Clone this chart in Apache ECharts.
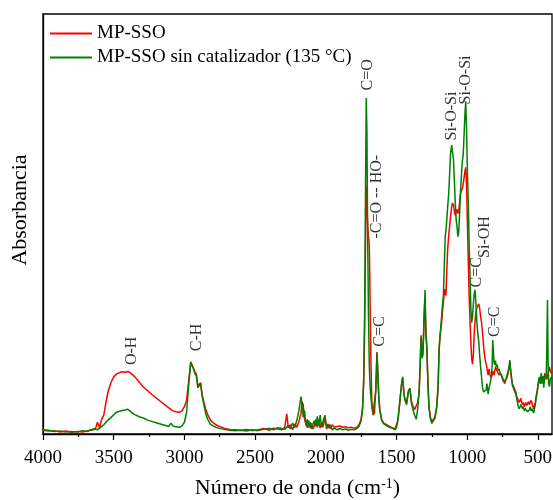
<!DOCTYPE html>
<html>
<head>
<meta charset="utf-8">
<script src="https://cdn.jsdelivr.net/npm/echarts@6/dist/echarts.min.js"></script>
<style>
  html, body { margin: 0; padding: 0; background: #fff; }
  #main { width: 553px; height: 500px; }
</style>
</head>
<body>
<div id="main"></div>
<script>
// numero de onda (cm-1)
var wavenumber = [4000,3960,3920,3880,3840,3800,3760,3720,3690,3660,3630,3615,3600,3585,3570,3555,3540,3520,3500,3480,3460,3440,3420,3400,3385,3370,3350,3320,3290,3260,3230,3200,3170,3140,3110,3095,3080,3060,3040,3020,3000,2985,2970,2955,2945,2935,2925,2915,2905,2895,2885,2875,2865,2850,2835,2815,2790,2760,2720,2680,2640,2600,2560,2520,2480,2440,2400,2370,2340,2310,2290,2276,2265,2250,2235,2220,2205,2190,2175,2168,2160,2150,2140,2130,2120,2110,2100,2090,2080,2070,2060,2050,2040,2030,2020,2006,1995,1985,1970,1955,1940,1920,1900,1880,1860,1840,1820,1800,1780,1765,1750,1740,1732,1725,1719,1714,1709,1704,1698,1692,1686,1680,1674,1666,1656,1646,1638,1632,1625,1618,1605,1590,1570,1550,1530,1510,1500,1490,1475,1465,1456,1448,1440,1428,1416,1405,1395,1385,1372,1360,1350,1340,1332,1326,1318,1312,1305,1298,1292,1285,1278,1270,1260,1250,1240,1228,1216,1206,1198,1190,1182,1175,1168,1160,1155,1150,1145,1138,1130,1124,1118,1110,1104,1097,1090,1084,1078,1072,1066,1060,1054,1048,1040,1034,1028,1022,1016,1010,1004,998,992,986,980,974,968,962,956,950,944,938,932,925,918,912,905,898,891,884,878,872,866,860,852,845,838,830,824,819,815,810,805,800,794,788,781,774,766,758,750,742,734,726,718,710,704,698,692,686,680,674,668,662,656,650,644,638,632,626,620,614,608,602,596,590,584,578,572,566,560,554,548,542,536,530,524,518,512,506,500,494,488,482,476,470,464,458,452,446,440,436,432,428,424,418,412,406,400];

// MP-SSO
var absMPSSO = [0.9,0.7,0.8,0.5,0.7,0.4,0.6,0.5,0.7,0.9,1.1,2.8,1.5,3.5,4.5,7.5,10.0,12.2,13.6,14.3,14.6,14.8,14.7,14.9,14.6,14.2,13.6,12.4,11.2,10.3,9.4,8.6,7.8,7.0,6.2,5.8,5.5,5.3,5.2,5.4,6.5,8.0,12.5,17.2,17.6,15.6,14.8,14.2,11.5,11.8,12.2,9.5,8.0,6.0,4.6,3.3,2.5,1.9,1.4,1.1,1.0,0.9,1.1,0.8,1.0,1.3,0.9,1.4,1.2,1.0,1.6,4.8,1.5,2.2,1.0,2.4,1.6,3.0,5.0,7.7,7.0,3.5,2.4,1.5,3.2,1.4,2.6,1.2,2.0,3.5,1.6,3.0,1.4,2.8,1.6,3.8,1.2,2.4,1.3,2.2,1.6,1.8,1.9,1.6,1.7,1.5,1.6,1.4,1.6,2.2,3.5,6.0,12,25,45,59,55,50,47,45,30,16,7.5,4.5,5.0,10.5,19.5,15,9,6,3.5,2.6,2.2,1.8,1.5,1.2,1.6,3.3,8.0,11.5,13.4,10.0,8.2,7.6,10.0,10.8,8.0,6.8,5.8,5.4,7.5,9.8,17,23,19,20,28,32.5,24,20,13,6.5,4.0,3.0,3.2,4.0,6.5,11,20,24,26,29,31.5,34.5,33.5,33.0,38,44,47.5,49.5,51.5,54,55,54.5,53,52,53,53.5,52.5,53,55,57,58,58.5,59.5,61,62.5,63.5,59,50,41,33,27,22,18,16.6,19,24,27,29,30,30.5,31,30,28,26.5,24,21,19,17.5,16.8,17.2,14,15.5,14,13.5,14,15,14.5,14,15,16,15.5,15,14.5,14,14.5,14,13,12.5,12,13,13.5,14.5,15.5,17,15,13,12,11.5,11,10.5,10,9,8.5,8.5,7.5,8.0,8.5,7.5,7.0,7.5,6.5,7.0,7.5,6.8,7.2,7.7,7.0,7.5,8.0,7.4,6.5,6.0,6.8,7.5,9.0,10.0,11.5,12.5,13.5,12.0,14.0,12.5,13.0,12.0,14.5,13.5,14.0,13.0,14.0,14.5,15.0,16.0,15.0,14.5,15.0];

// MP-SSO sin catalizador (135 °C)
var absSinCat = [1.0,0.9,0.6,0.7,0.5,0.6,0.5,0.8,0.6,1.0,1.3,1.0,1.4,1.8,2.2,2.8,3.3,3.9,4.6,5.2,5.4,5.6,5.7,5.9,5.5,5.0,4.6,4.1,3.8,3.3,3.0,2.7,2.4,2.1,1.8,2.6,1.9,1.7,1.6,1.8,2.8,5.0,11.5,17.0,17.4,15.4,14.4,13.8,11.0,11.5,12.0,9,7.5,5.0,3.5,2.3,1.8,1.4,1.1,0.9,0.8,0.9,0.7,1.0,0.8,1.1,1.4,1.0,1.5,1.3,1.1,1.5,2.0,1.2,2.6,1.5,3.2,5.6,8.9,7.0,4.0,5.6,2.0,3.5,1.6,2.8,1.2,2.4,3.2,1.8,4.2,2.0,4.5,1.6,3.0,4.5,2.0,1.4,2.2,1.0,1.4,1.0,1.3,1.0,1.2,0.9,1.1,1.0,1.3,1.8,3.2,6.2,13,30,58,80,72,48,28,16,11,8.5,6.5,4.8,5.2,10.5,19.2,14.5,8.5,5.6,3.3,2.4,2.0,1.6,1.4,1.0,1.5,3.2,8.2,11.6,13.6,9.8,8.0,7.0,10.2,10.9,7.5,6.0,4.5,3.5,6.0,9.8,16.5,23.5,18,19,27,34.3,24,21,12,6.3,3.6,2.5,2.8,3.8,6.0,11,21,24,27.5,30.5,33,42,47,48.5,50.5,54,57.5,62,66.5,68.8,68.5,65.5,60,55,51,49.5,47,48,52,57,62,65,66.5,71,76,79.2,72,62,55,45,38,30,26.5,28,31,33.5,34.3,31,27,24,22,19,16,13.5,11,10,9.6,9.8,10.5,12,9.5,11,12,13.5,16,22.4,20,17,16.5,17.5,16,16.5,15,15.5,14.5,14,13.5,12.5,12.8,13,14,15,16,17.6,15,13.5,11.5,11,10.5,10.8,9.5,8.5,7.5,6.5,6.0,6.5,7.0,7.3,6.0,6.5,5.5,6.1,5.8,6.5,5.3,5.0,5.8,6.5,5.5,6.0,5.5,5.0,5.3,7.0,8.5,9.7,11.0,13.0,13.6,12.0,14.5,12.0,13.8,11.0,14.0,13.0,14.5,22.0,31.9,18.0,12.0,11.3,13.0,13.6,13.0];

// anotaciones de bandas
var bandText = ['O-H','C-H','C=O','-C=O -- HO-','C=C','Si-O-Si','Si-O-Si','C=C','Si-OH','C=C'];
var bandWave = [3371,2915,1700,1636,1617,1109,1012,930,874,803];
var bandY    = [19.8,23.0,85.5,56.5,24.4,75.7,84.3,38.5,46.9,26.7];

var majorTicks = [4000,3500,3000,2500,2000,1500,1000,500];
var minorTicks = [3750,3250,2750,2250,1750,1250,750];

var font = "'Liberation Serif', 'Times New Roman', serif";

function pairs(xs, ys) {
    var out = [];
    for (var i = 0; i < xs.length; i++) {
        out.push([xs[i], ys[i]]);
    }
    return out;
}

var bandData = [];
for (var i = 0; i < bandText.length; i++) {
    bandData.push({ name: bandText[i], value: [bandWave[i], bandY[i]] });
}

var myChart = echarts.init(document.getElementById('main'));

var option = {
    animation: false,
    backgroundColor: '#fff',
    grid: {
        left: 43, right: 1, top: 14, bottom: 66,
        outerBoundsMode: 'none',
        containLabel: false,
        show: true,
        borderColor: '#000',
        borderWidth: 1.3
    },
    legend: {
        data: [
            { name: 'MP-SSO', icon: 'rect' },
            { name: 'MP-SSO sin catalizador (135 °C)', icon: 'rect' }
        ],
        orient: 'vertical',
        left: 45,
        top: 19,
        itemWidth: 42,
        itemHeight: 2,
        itemGap: 5,
        textStyle: { fontFamily: font, fontSize: 19, color: '#000', lineHeight: 19 }
    },
    xAxis: [
        {
            type: 'value',
            min: 400, max: 4000,
            inverse: true,
            position: 'bottom',
            axisLine: { show: true, lineStyle: { color: '#000', width: 1.3 } },
            axisTick: { show: true, length: 6, customValues: majorTicks, lineStyle: { color: '#000', width: 1.2 } },
            axisLabel: {
                show: true, customValues: majorTicks, margin: 15,
                formatter: function (v) { return String(v); },
                fontFamily: font, fontSize: 19, color: '#000'
            },
            splitLine: { show: false },
            name: '{a|Número de onda (cm}{s|-1}{a|)}',
            nameLocation: 'middle',
            nameGap: 43,
            nameTextStyle: {
                rich: {
                    a: { fontFamily: font, fontSize: 22, color: '#000' },
                    s: { fontFamily: font, fontSize: 14, color: '#000', verticalAlign: 'top', padding: [0, 0, 8, 0] }
                }
            }
        },
        {
            type: 'value',
            min: 400, max: 4000,
            inverse: true,
            position: 'bottom',
            axisLine: { show: false },
            axisTick: { show: true, length: 3, customValues: minorTicks, lineStyle: { color: '#000', width: 1.2 } },
            axisLabel: { show: false },
            splitLine: { show: false }
        }
    ],
    yAxis: {
        type: 'value',
        min: 0, max: 100,
        axisLine: { show: true, lineStyle: { color: '#000', width: 1.3 } },
        axisTick: { show: false },
        axisLabel: { show: false },
        splitLine: { show: false },
        name: 'Absorbancia',
        nameLocation: 'middle',
        nameGap: 12,
        nameTextStyle: { fontFamily: font, fontSize: 22, color: '#000', padding: [0, 0, 0, 28] }
    },
    series: [
        {
            name: 'MP-SSO',
            type: 'line',
            symbol: 'none',
            data: pairs(wavenumber, absMPSSO),
            lineStyle: { color: '#ff0000', width: 1.5 },
            itemStyle: { color: '#ff0000' }
        },
        {
            name: 'MP-SSO sin catalizador (135 °C)',
            type: 'line',
            symbol: 'none',
            data: pairs(wavenumber, absSinCat),
            lineStyle: { color: '#008000', width: 1.5 },
            itemStyle: { color: '#008000' }
        },
        {
            name: 'bandas',
            type: 'scatter',
            symbolSize: 0,
            silent: true,
            data: bandData,
            label: {
                show: true,
                position: 'inside',
                rotate: 90,
                formatter: function (p) { return p.name; },
                fontFamily: font,
                fontSize: 16,
                color: '#000'
            }
        }
    ]
};

myChart.setOption(option, true);
</script>
</body>
</html>
